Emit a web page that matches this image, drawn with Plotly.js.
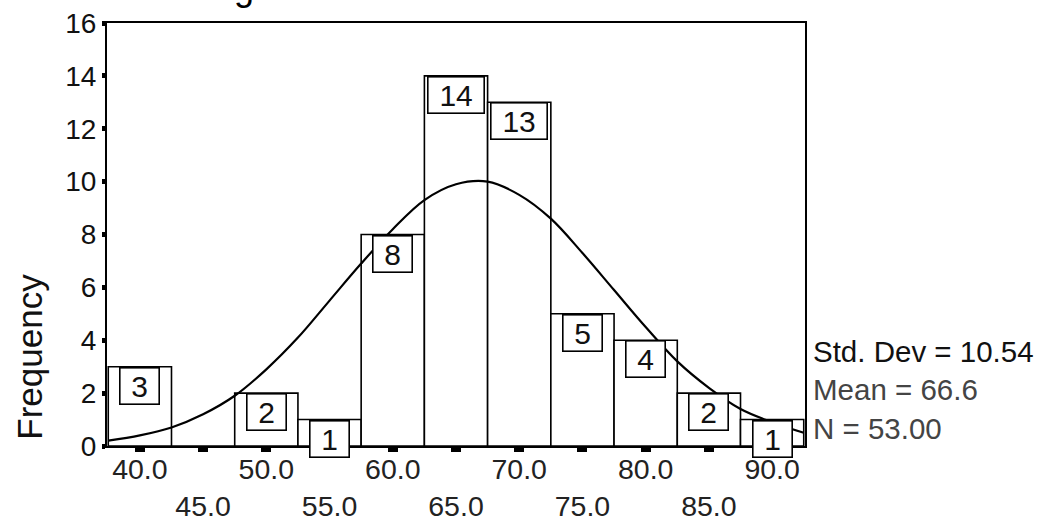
<!DOCTYPE html>
<html>
<head>
<meta charset="utf-8">
<script src="https://cdn.plot.ly/plotly-3.0.1.min.js"></script>
<style>
  html, body { margin: 0; padding: 0; background: white; }
  #plot-0 { width: 1047px; height: 523px; }
</style>
</head>
<body>
<div id="plot-0"></div>
<script>
// histogram bins (centre of each 5-wide class) and their frequencies
var binCenters = [40, 45, 50, 55, 60, 65, 70, 75, 80, 85, 90];
var counts = [3, 0, 2, 1, 8, 14, 13, 5, 4, 2, 1];
var tickLabels = ['40.0', '45.0', '50.0', '55.0', '60.0', '65.0', '70.0', '75.0', '80.0', '85.0', '90.0'];

// normal curve
var curveX = [37.5, 40, 42.5, 45, 47.5, 50, 52.5, 55, 57.5, 60, 62.5, 65,
              67.5, 70, 72.5, 75, 77.5, 80, 82.5, 85, 87.5, 90, 92.5];
var curveY = [0.2, 0.4, 0.7, 1.2, 1.9, 2.9, 4.1, 5.5, 6.9, 8.2, 9.3, 9.9,
              10.0, 9.5, 8.6, 7.3, 5.9, 4.5, 3.2, 2.2, 1.4, 0.9, 0.5];

var stdDev = '10.54';
var mean = '66.6';
var nCases = '53.00';

var FONT = 'Liberation Sans, Arial, sans-serif';

function createPlot(divName) {
    var bars = {
        type: 'bar',
        x: binCenters,
        y: counts,
        width: 5,
        marker: { color: 'white', line: { color: 'black', width: 1.6 } },
        hoverinfo: 'skip'
    };

    var curve = {
        type: 'scatter',
        mode: 'lines',
        x: curveX,
        y: curveY,
        line: { color: 'black', width: 2.2, shape: 'spline' },
        hoverinfo: 'skip'
    };

    // alternate tick labels on two rows
    var ticktext = tickLabels.map(function (t, i) {
        return i % 2 === 0 ? t : '<br>' + t;
    });

    // count boxes at the top of each bar
    var annotations = [];
    counts.forEach(function (c, i) {
        if (c === 0) return;
        var label = String(c);
        annotations.push({
            x: binCenters[i], y: c,
            xref: 'x', yref: 'y',
            xanchor: 'center', yanchor: 'top',
            text: label,
            showarrow: false,
            width: label.length > 1 ? 53 : 36,
            height: 33,
            bgcolor: 'white',
            bordercolor: 'black',
            borderwidth: 1.6,
            borderpad: 1,
            font: { family: FONT, size: 30, color: '#111' }
        });
    });

    annotations.push({
        xref: 'paper', yref: 'paper',
        x: 0.063, y: 1.033,
        xanchor: 'left', yanchor: 'bottom',
        text: 'Histogram',
        showarrow: false,
        borderpad: 0,
        font: { family: FONT, size: 36, color: 'black' }
    });

    annotations.push({
        xref: 'paper', yref: 'paper',
        x: -0.111, y: 0.21,
        xanchor: 'center', yanchor: 'middle',
        text: 'Frequency',
        textangle: -90,
        showarrow: false,
        font: { family: FONT, size: 35, color: '#111' }
    });

    annotations.push({
        xref: 'paper', yref: 'paper',
        x: 1.008, y: 0.132,
        xanchor: 'left', yanchor: 'middle',
        align: 'left',
        text: 'Std. Dev = ' + stdDev +
              '<br><span style="color:#444">Mean = ' + mean + '</span>' +
              '<br><span style="color:#444">N = ' + nCases + '</span>',
        showarrow: false,
        font: { family: FONT, size: 29.5, color: '#111' }
    });

    var layout = {
        width: 1047,
        height: 523,
        showlegend: false,
        plot_bgcolor: 'white',
        paper_bgcolor: 'white',
        margin: { l: 107, r: 242, t: 23, b: 77, pad: 0 },
        bargap: 0,
        xaxis: {
            range: [37.4, 92.6],
            tickvals: binCenters,
            ticktext: ticktext,
            ticks: 'outside',
            ticklen: 4,
            tickwidth: 10,
            tickcolor: 'black',
            ticklabelstandoff: -7,
            showline: true,
            linecolor: 'black',
            linewidth: 2,
            mirror: true,
            showgrid: false,
            zeroline: false,
            tickfont: { family: FONT, size: 28.5, color: '#222' }
        },
        yaxis: {
            range: [0, 16],
            dtick: 2,
            ticks: 'outside',
            ticklen: 3,
            tickwidth: 5,
            tickcolor: 'black',
            showline: true,
            linecolor: 'black',
            linewidth: 2,
            mirror: true,
            showgrid: false,
            zeroline: false,
            tickfont: { family: FONT, size: 28, color: '#111' }
        },
        annotations: annotations
    };

    Plotly.newPlot(divName, [bars, curve], layout, { staticPlot: true });
}

createPlot('plot-0');
</script>
</body>
</html>
